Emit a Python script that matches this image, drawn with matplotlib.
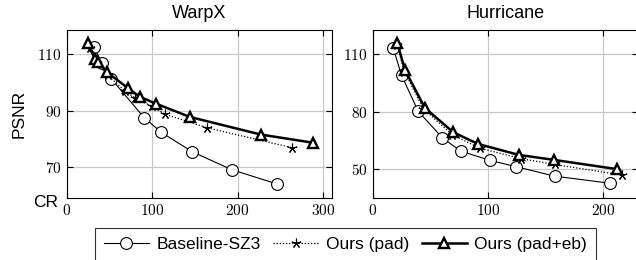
import matplotlib
matplotlib.use("Agg")
import matplotlib.pyplot as plt
from matplotlib.lines import Line2D

plt.rcParams['font.family'] = ['Liberation Sans', 'DejaVu Sans']
plt.rcParams['mathtext.fontset'] = 'cm'

# ---- data ----
warpx_base_x = [32, 41, 52, 90.5, 110.5, 147, 193, 245.5]
warpx_base_y = [112.4, 106.9, 101.3, 87.6, 82.4, 75.5, 69.2, 64.2]
warpx_pad_x = [27, 36, 48, 68, 80, 100, 115, 164, 263]
warpx_pad_y = [112, 106.8, 102.5, 97, 94.5, 91.5, 88.8, 84, 77]
warpx_eb_x = [25.3, 33.1, 37, 46.8, 72, 85.7, 104.4, 144.2, 227, 288.4]
warpx_eb_y = [113.8, 108.1, 107.3, 103.7, 97.9, 94.9, 92.5, 87.8, 81.6, 78.7]

hur_base_x = [17.8, 25, 39.5, 60.5, 76.2, 102, 124, 157.8, 205.8]
hur_base_y = [113.2, 99.1, 80.2, 66.4, 59.5, 54.6, 51.4, 46.4, 42.7]
hur_pad_x = [21, 27.5, 44, 69, 93, 129, 158, 216]
hur_pad_y = [115, 101, 81.5, 68, 61, 55.5, 52.5, 47]
hur_eb_x = [21.3, 28, 45.3, 69.9, 91.4, 126.7, 157.2, 211.5]
hur_eb_y = [116, 101.8, 82, 69.3, 63.2, 57.5, 54.9, 50.1]

warpx_xticks = [0, 100, 200, 300]
warpx_yticks = [70, 90, 110]
hur_xticks = [0, 100, 200]
hur_yticks = [50, 80, 110]

titles = ["WarpX", "Hurricane"]
labels = ["Baseline-SZ3", "Ours (pad)", "Ours (pad+eb)"]

W, H = 636, 260
fig = plt.figure(figsize=(W / 100, H / 100), dpi=100)

def px_axes(l, t, r, b):
    return fig.add_axes([l / W, 1 - b / H, (r - l) / W, (b - t) / H])

ax1 = px_axes(66.7, 30, 331.7, 198)
ax2 = px_axes(372.7, 30, 637.7, 198)

star = (5, 2, 0)

def draw(ax, bx, by, px, py, ex, ey):
    ax.plot(bx, by, color='black', lw=0.8, marker='o', ms=8.5, mfc='white',
            mec='black', mew=0.8, zorder=3)
    ax.plot(px, py, color='black', lw=0.9, ls=(0, (1, 1.5)), marker=star, ms=7,
            mec='black', mew=0.8, zorder=4)
    ax.plot(ex, ey, color='black', lw=1.8, marker='^', ms=7.5, mfc='white',
            mec='black', mew=1.7, zorder=5)

draw(ax1, warpx_base_x, warpx_base_y, warpx_pad_x, warpx_pad_y, warpx_eb_x, warpx_eb_y)
draw(ax2, hur_base_x, hur_base_y, hur_pad_x, hur_pad_y, hur_eb_x, hur_eb_y)

ax1.set_xlim(0, 310)
ax1.set_ylim(59.2, 118.5)
ax2.set_xlim(0, 229.8)
ax2.set_ylim(35, 122.7)

for ax, xt, yt, title in [(ax1, warpx_xticks, warpx_yticks, titles[0]),
                          (ax2, hur_xticks, hur_yticks, titles[1])]:
    ax.set_xticks(xt)
    ax.set_yticks(yt)
    ax.set_xticklabels([f'${v}$' for v in xt], fontsize=11)
    ax.set_yticklabels([f'${v}$' for v in yt], fontsize=11)
    ax.tick_params(direction='in', length=4, width=0.8, top=True, right=True,
                   pad=3.5)
    ax.grid(True, color='#c8c8c8', lw=0.9)
    ax.set_axisbelow(True)
    for s in ax.spines.values():
        s.set_linewidth(0.8)
    ax.set_title(title, fontsize=13, pad=9)

ax1.set_ylabel("PSNR", fontsize=12.5, labelpad=8)
fig.text(33 / W, 1 - 207 / H, "CR", fontsize=12.5, ha='left', va='baseline')

handles = [
    Line2D([], [], color='black', lw=0.8, marker='o', ms=8.5, mfc='white', mec='black', mew=0.8),
    Line2D([], [], color='black', lw=0.9, ls=(0, (1, 1.5)), marker=star, ms=7, mec='black', mew=0.8),
    Line2D([], [], color='black', lw=1.8, marker='^', ms=7.5, mfc='white', mec='black', mew=1.7),
]
leg = fig.legend(handles, labels, loc='upper center', bbox_to_anchor=(345.5 / W, 1 - 228 / H),
                 ncol=3, fontsize=12.5, frameon=True, fancybox=False, edgecolor='black',
                 handlelength=2.6, handletextpad=0.45, columnspacing=0.7,
                 borderpad=0.5, borderaxespad=0)
leg.get_frame().set_linewidth(0.8)

fig.savefig("out.png", dpi=100)
